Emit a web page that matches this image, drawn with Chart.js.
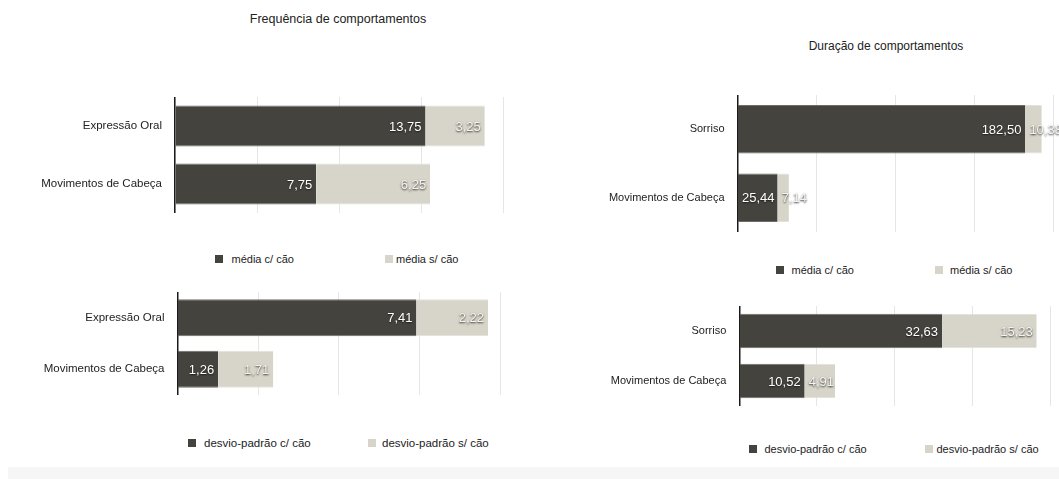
<!DOCTYPE html>
<html>
<head>
<meta charset="utf-8">
<script src="https://cdn.jsdelivr.net/npm/chart.js@4/dist/chart.umd.min.js"></script>
<style>
  body { margin: 0; background: #fff; font-family: "Liberation Sans", Arial, sans-serif; }
  #page { position: relative; width: 1059px; height: 479px; overflow: hidden; }
  canvas { position: absolute; }
  .title { position: absolute; color: #222; transform: translate(-50%, -50%); white-space: nowrap; }
  .leg { position: absolute; color: #222; white-space: nowrap; transform: translateY(-50%); }
  .sq { position: absolute; width: 8px; height: 8px; transform: translateY(-50%); }
  #band { position: absolute; left: 8px; top: 467px; width: 1051px; height: 12px; background: #f6f6f6; }
</style>
</head>
<body>
<div id="page">
  <div class="title" style="left:338px; top:19px; font-size:12.5px;">Frequência de comportamentos</div>
  <div class="title" style="left:886px; top:46px; font-size:12px;">Duração de comportamentos</div>

  <canvas id="c1" width="509" height="116" style="left:0px; top:97px;"></canvas>
  <canvas id="c2" width="506" height="103" style="left:0px; top:292px;"></canvas>
  <canvas id="c3" width="529" height="137" style="left:530px; top:95px;"></canvas>
  <canvas id="c4" width="526" height="100" style="left:530px; top:306px;"></canvas>

  <div id="legends"></div>
  <div id="band"></div>
</div>
<script>
// dados
const categoriasFreq = ['Expressão Oral', 'Movimentos de Cabeça'];
const freqMediaCom = [13.75, 7.75];
const freqMediaSem = [3.25, 6.25];
const freqDesvioCom = [7.41, 1.26];
const freqDesvioSem = [2.22, 1.71];

const categoriasDur = ['Sorriso', 'Movimentos de Cabeça'];
const durMediaCom = [182.50, 25.44];
const durMediaSem = [10.38, 7.14];
const durDesvioCom = [32.63, 10.52];
const durDesvioSem = [15.23, 4.91];

const legMedia = ['média c/ cão', 'média s/ cão'];
const legDesvio = ['desvio-padrão c/ cão', 'desvio-padrão s/ cão'];

const escalaMax = [18, 10, 200, 50];
const escalaPasso = [4.5, 2.5, 50, 12.5];

const corEscura = '#45433e';
const corClara = '#d7d4c9';

Chart.defaults.font.family = '"Liberation Sans", Arial, sans-serif';
Chart.defaults.font.size = 11;
Chart.defaults.color = '#222';

function fmt(v) {
    return v.toFixed(2).replace('.', ',');
}

const valueLabels = {
    id: 'valueLabels',
    afterDatasetsDraw(chart) {
        const ctx = chart.ctx;
        ctx.save();
        ctx.font = '13px "Liberation Sans", Arial, sans-serif';
        ctx.textBaseline = 'middle';
        chart.data.datasets.forEach((ds, i) => {
            chart.getDatasetMeta(i).data.forEach((bar, j) => {
                const txt = fmt(ds.data[j]);
                const w = ctx.measureText(txt).width;
                const start = Math.min(bar.base, bar.x);
                const end = Math.max(bar.base, bar.x);
                let x;
                if (w + 8 <= end - start) {
                    ctx.textAlign = 'right';
                    x = end - 4;
                } else {
                    ctx.textAlign = 'left';
                    x = start + 4;
                }
                if (i === 0) {
                    ctx.fillStyle = '#ffffff';
                    ctx.shadowColor = 'rgba(0,0,0,0.6)';
                    ctx.shadowBlur = 1.5;
                    ctx.shadowOffsetY = 1;
                } else {
                    ctx.fillStyle = '#f4f3ef';
                    ctx.shadowColor = 'rgba(0,0,0,0.8)';
                    ctx.shadowBlur = 2;
                    ctx.shadowOffsetY = 1;
                }
                ctx.fillText(txt, x, bar.y + 1);
            });
        });
        ctx.restore();
    }
};

function makeChart(id, cats, serieA, serieB, idx, yWidth, barPct, fontSize) {
    const ctx = document.getElementById(id).getContext('2d');
    return new Chart(ctx, {
        type: 'bar',
        data: {
            labels: cats,
            datasets: [{
                data: serieA,
                backgroundColor: corEscura,
                borderColor: '#6e6c67',
                borderWidth: { top: 1, bottom: 1, left: 0, right: 0 },
                borderSkipped: false
            }, {
                data: serieB,
                backgroundColor: corClara,
                borderColor: '#e4e2da',
                borderWidth: { top: 1, bottom: 1, left: 0, right: 0 },
                borderSkipped: false
            }]
        },
        options: {
            indexAxis: 'y',
            responsive: false,
            animation: false,
            layout: { padding: { left: 0, right: 6, top: 0, bottom: 0 } },
            datasets: { bar: { barPercentage: barPct, categoryPercentage: 1 } },
            plugins: { legend: { display: false }, tooltip: { enabled: false }, title: { display: false } },
            scales: {
                x: {
                    stacked: true,
                    min: 0,
                    max: escalaMax[idx],
                    ticks: { display: false, stepSize: escalaPasso[idx] },
                    grid: { color: '#e6e6e6', lineWidth: 1, drawTicks: false },
                    border: { display: false },
                    afterFit: s => { s.height = 0; s.paddingLeft = 0; s.paddingRight = 0; }
                },
                y: {
                    stacked: true,
                    ticks: { padding: 13, color: '#222', font: { size: fontSize } },
                    grid: { display: false, drawTicks: false },
                    border: { display: true, color: '#1a1a1a', width: 1.5 },
                    afterFit: s => { s.width = yWidth; s.paddingTop = 0; s.paddingBottom = 0; }
                }
            }
        },
        plugins: [valueLabels]
    });
}

makeChart('c1', categoriasFreq, freqMediaCom, freqMediaSem, 0, 175, 0.71, 11.5);
makeChart('c2', categoriasFreq, freqDesvioCom, freqDesvioSem, 1, 177.5, 0.72, 11.5);
makeChart('c3', categoriasDur, durMediaCom, durMediaSem, 2, 207.5, 0.71, 11);
makeChart('c4', categoriasDur, durDesvioCom, durDesvioSem, 3, 209.3, 0.69, 11);

// legendas
const legendas = [
    { y: 259, sq: [215, 385], txt: [231.5, 396], nomes: legMedia, fs: 11 },
    { y: 443, sq: [188, 368], txt: [204, 382], nomes: legDesvio, fs: 11.5 },
    { y: 269.5, sq: [776, 935], txt: [791.5, 950], nomes: legMedia, fs: 11 },
    { y: 449, sq: [749, 925], txt: [764.5, 936.5], nomes: legDesvio, fs: 11 }
];
const legDiv = document.getElementById('legends');
legendas.forEach(l => {
    [corEscura, corClara].forEach((c, k) => {
        legDiv.innerHTML += `<div class="sq" style="left:${l.sq[k]}px; top:${l.y}px; background:${c};"></div>`;
        legDiv.innerHTML += `<div class="leg" style="left:${l.txt[k]}px; top:${l.y}px; font-size:${l.fs}px;">${l.nomes[k]}</div>`;
    });
});
</script>
</body>
</html>
